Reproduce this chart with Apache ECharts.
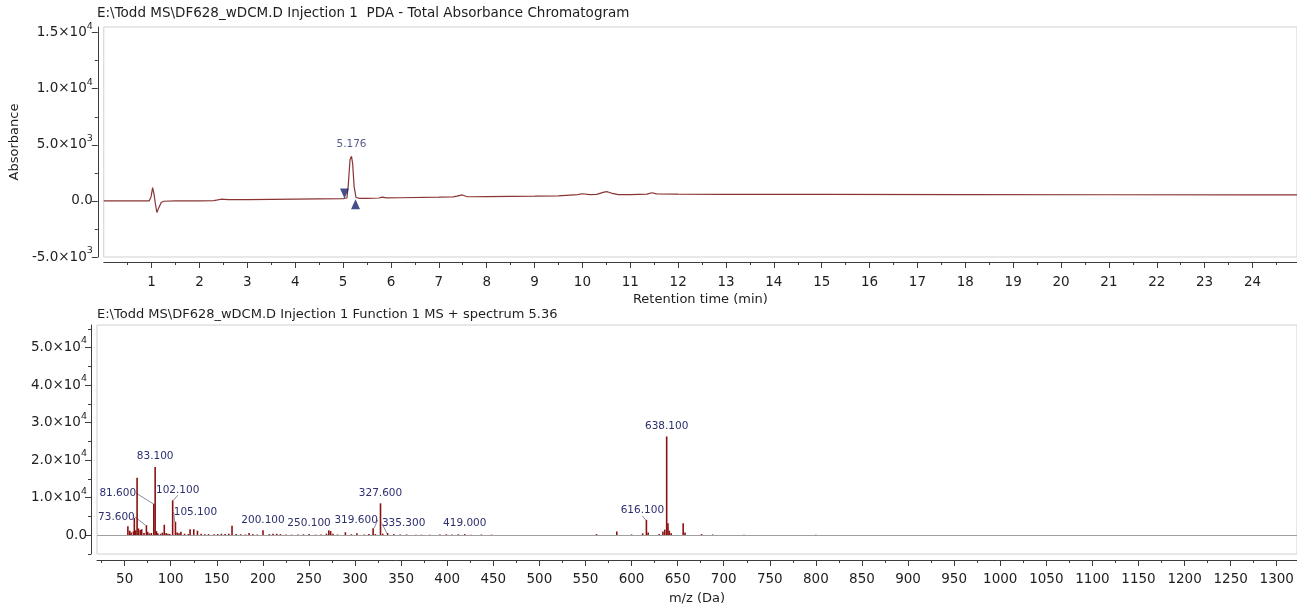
<!DOCTYPE html>
<html>
<head>
<meta charset="utf-8">
<script src="https://cdn.jsdelivr.net/npm/echarts@6/dist/echarts.min.js"></script>
<style>
  html, body { margin: 0; padding: 0; background: #ffffff; }
  #chart { width: 1297px; height: 608px; }
</style>
</head>
<body>
<div id="chart"></div>
<script>
// ---- PDA total absorbance trace (retention time in min, absorbance) ----
const traceTime = [0, 0.5, 0.95, 0.99, 1.02, 1.05, 1.08, 1.11, 1.15, 1.2,
  1.25, 1.5, 2.0, 2.3, 2.38, 2.45, 2.6, 3.0, 3.5, 4.0,
  4.5, 5.0, 5.08, 5.11, 5.145, 5.176, 5.2, 5.23, 5.27, 5.35,
  5.5, 5.75, 5.82, 5.9, 6.2, 7.0, 7.3, 7.38, 7.49, 7.58,
  7.7, 8.0, 8.5, 9.0, 9.5, 9.9, 10.0, 10.15, 10.3, 10.45,
  10.52, 10.6, 10.75, 11.0, 11.35, 11.45, 11.55, 12.0, 13.0, 15.0,
  18.0, 21.0, 24.0, 24.93];
const traceAbs = [0, 0, 10, 400, 1180, 600, -300, -1030, -600, -150,
  -30, 0, 10, 30, 90, 150, 110, 120, 140, 160,
  180, 200, 260, 1500, 3700, 3980, 3300, 1300, 300, 230,
  230, 260, 340, 270, 280, 330, 360, 420, 530, 390,
  370, 380, 400, 420, 450, 560, 640, 560, 580, 780,
  820, 700, 560, 560, 600, 730, 620, 600, 590, 580,
  560, 550, 540, 540];

// integrated peak: apex, start and end markers
const peakApexTime = [5.176];
const peakApexAbs = [3980];
const peakStartTime = [5.03];
const peakStartAbs = [220];
const peakEndTime = [5.26];
const peakEndAbs = [240];

// ---- MS spectrum at 5.36 min (m/z, intensity) ----
const specMz = [53.5, 55.5, 57.0, 59.5, 60.5, 62.0, 63.5, 65.0, 67.0, 68.5,
  71.0, 73.6, 75.0, 77.0, 79.0, 81.6, 83.1, 84.5, 86.0, 89.0,
  91.0, 93.0, 95.0, 97.0, 99.0, 102.1, 105.1, 107.0, 109.0, 111.0,
  115.0, 119.0, 121.0, 125.0, 129.0, 133.0, 137.0, 141.0, 147.0, 151.0,
  155.0, 159.0, 163.0, 166.5, 171.0, 176.0, 181.0, 185.0, 189.0, 194.0,
  200.1, 207.0, 211.0, 215.0, 219.0, 225.0, 231.0, 238.0, 244.0, 250.1,
  257.0, 263.0, 269.0, 271.5, 273.5, 276.0, 281.0, 289.5, 296.0, 302.0,
  310.0, 315.0, 319.6, 322.0, 327.6, 330.0, 335.3, 342.0, 349.0, 356.0,
  366.0, 372.0, 381.0, 392.0, 399.0, 405.0, 412.0, 419.0, 426.0, 437.0,
  448.0, 562.0, 584.0, 600.0, 612.0, 616.1, 618.0, 630.0, 634.0, 636.0,
  638.1, 639.5, 641.0, 643.0, 656.0, 658.0, 676.0, 688.0, 722.0, 800.0];
const specIntensity = [2400, 1200, 700, 1000, 4600, 1300, 15300, 1800, 1400, 1600,
  600, 2650, 900, 500, 600, 8400, 18200, 1100, 500, 400,
  700, 2800, 600, 400, 300, 9300, 3600, 700, 500, 900,
  400, 300, 1600, 1600, 1200, 400, 250, 300, 250, 300,
  400, 300, 400, 2500, 300, 250, 200, 600, 300, 200,
  1300, 300, 400, 400, 300, 200, 150, 200, 250, 300,
  150, 200, 400, 1300, 1100, 400, 200, 800, 250, 500,
  200, 300, 1850, 300, 8500, 400, 600, 300, 200, 200,
  150, 150, 150, 200, 250, 200, 250, 300, 150, 200,
  150, 300, 1000, 200, 500, 4100, 700, 300, 1000, 1500,
  26300, 3200, 1200, 500, 3200, 700, 300, 200, 150, 150];
// peaks annotated with their m/z
const labelledMz = [73.6, 81.6, 83.1, 102.1, 105.1, 200.1, 250.1, 319.6, 327.6, 335.3, 419.0, 616.1, 638.1];

// ---- tick values ----
const rtTicks = [1, 2, 3, 4, 5, 6, 7, 8, 9, 10, 11, 12, 13, 14, 15, 16, 17, 18, 19, 20, 21, 22, 23, 24];
const absTicks = [-5000, 0, 5000, 10000, 15000];
const mzTicks = [50, 100, 150, 200, 250, 300, 350, 400, 450, 500, 550, 600, 650, 700, 750,
  800, 850, 900, 950, 1000, 1050, 1100, 1150, 1200, 1250, 1300];
const intTicks = [0, 10000, 20000, 30000, 40000, 50000];

// minor ticks sit halfway between the labelled ones
const rtMinor = [0.5].concat(rtTicks.map(v => v + 0.5));
const absMinor = [-2500, 2500, 7500, 12500];
const mzMinor = [25].concat(mzTicks.map(v => v + 25));
const intMinor = [-5000].concat(intTicks.map(v => v + 5000));

// ---- styling / layout ----
const FONT = "'DejaVu Sans', Verdana, sans-serif";
const TEXT = '#1e1e1e';
const AXIS = '#3c3c3c';
const TRACE = '#8a3434';
const STICK = '#8b1111';
const ANNOT = '#2c2f6e';
const MARK = '#16226c';

// pixel nudges for crowded peak annotations
const labelNudge = {
  '73.6': [-30, 2], '81.6': [-36, 0], '102.1': [5, 0], '105.1': [20, 1],
  '319.6': [-17, 2], '335.3': [16, 1], '616.1': [-4, 1]
};

function sciLabel(v) {
  if (v === 0) return '{m|0.0}';
  const e = Math.floor(Math.log10(Math.abs(v)) + 1e-9);
  const m = v / Math.pow(10, e);
  return '{m|' + m.toFixed(1) + '×10}{s|' + e + '}';
}
const sciRich = {
  m: { fontFamily: FONT, fontSize: 13.5, color: TEXT },
  s: { fontFamily: FONT, fontSize: 9.5, color: TEXT, padding: [0, 0, 13, 0] }
};
const plainLabel = v => String(v);

function valueAxis(extra) {
  return Object.assign({
    type: 'value',
    splitLine: { show: false },
    axisLine: { show: true, onZero: false, lineStyle: { color: AXIS, width: 1 } },
    axisTick: { show: true, lineStyle: { color: AXIS, width: 1 } },
    axisLabel: { show: true }
  }, extra);
}
// tick-only companion axis carrying the short intermediate ticks
function minorAxis(extra, values) {
  return Object.assign({
    type: 'value',
    splitLine: { show: false },
    axisLine: { show: false, onZero: false },
    axisLabel: { show: false },
    axisTick: { show: true, length: 3, customValues: values, lineStyle: { color: AXIS, width: 1 } }
  }, extra);
}

const rtMax = 24.93, mzMin = 20, mzMax = 1322;
const absMin = -5000, absMax = 15500, intMin = -5000, intMax = 56000;

const spectrumData = specMz.map((mz, i) => {
  const item = { value: [mz, specIntensity[i]] };
  if (labelledMz.indexOf(mz) >= 0) {
    item.label = { show: true };
    if (labelNudge[String(mz)]) item.labelLine = { show: true };
  }
  return item;
});

const chart = echarts.init(document.getElementById('chart'), null, { renderer: 'canvas' });

chart.setOption({
  animation: false,
  backgroundColor: '#ffffff',
  title: [
    { text: 'E:\\Todd MS\\DF628_wDCM.D Injection 1  PDA - Total Absorbance Chromatogram',
      left: 97, top: 6, padding: 0,
      textStyle: { fontFamily: FONT, fontSize: 13.5, fontWeight: 'normal', color: TEXT } },
    { text: 'E:\\Todd MS\\DF628_wDCM.D Injection 1 Function 1 MS + spectrum 5.36',
      left: 97, top: 308, padding: 0,
      textStyle: { fontFamily: FONT, fontSize: 13, fontWeight: 'normal', color: TEXT } }
  ],
  grid: [
    { left: 103, top: 27, width: 1194, height: 230, show: true, borderColor: '#d0d0d0', borderWidth: 1, backgroundColor: 'transparent' },
    { left: 97, top: 325, width: 1200, height: 229, show: true, borderColor: '#d0d0d0', borderWidth: 1, backgroundColor: 'transparent' }
  ],
  xAxis: [
    valueAxis({
      gridIndex: 0, position: 'bottom', min: 0, max: rtMax, offset: 5,
      name: 'Retention time (min)', nameLocation: 'middle', nameGap: 31,
      nameTextStyle: { fontFamily: FONT, fontSize: 13, color: TEXT },
      axisTick: { show: true, length: 6, customValues: rtTicks, lineStyle: { color: AXIS } },
      axisLabel: { customValues: rtTicks, formatter: plainLabel, fontFamily: FONT, fontSize: 13.5, color: TEXT, margin: 13 }
    }),
    minorAxis({ gridIndex: 0, position: 'bottom', min: 0, max: rtMax, offset: 5 }, rtMinor),
    valueAxis({
      gridIndex: 1, position: 'bottom', min: mzMin, max: mzMax, offset: 6,
      name: 'm/z (Da)', nameLocation: 'middle', nameGap: 32,
      nameTextStyle: { fontFamily: FONT, fontSize: 13, color: TEXT },
      axisTick: { show: true, length: 6, customValues: mzTicks, lineStyle: { color: AXIS } },
      axisLabel: { customValues: mzTicks, formatter: plainLabel, fontFamily: FONT, fontSize: 13.5, color: TEXT, margin: 12 }
    }),
    minorAxis({ gridIndex: 1, position: 'bottom', min: mzMin, max: mzMax, offset: 6 }, mzMinor)
  ],
  yAxis: [
    valueAxis({
      gridIndex: 0, position: 'left', min: absMin, max: absMax, offset: 6,
      name: 'Absorbance', nameLocation: 'middle', nameGap: 67, nameRotate: 90,
      nameTextStyle: { fontFamily: FONT, fontSize: 13, color: TEXT },
      axisTick: { show: true, length: 6, customValues: absTicks, lineStyle: { color: AXIS } },
      axisLabel: { customValues: absTicks, margin: 5, formatter: sciLabel, rich: sciRich }
    }),
    minorAxis({ gridIndex: 0, position: 'left', min: absMin, max: absMax, offset: 6 }, absMinor),
    valueAxis({
      gridIndex: 1, position: 'left', min: intMin, max: intMax, offset: 6,
      axisTick: { show: true, length: 6, customValues: intTicks, lineStyle: { color: AXIS } },
      axisLabel: { customValues: intTicks, margin: 4, formatter: sciLabel, rich: sciRich }
    }),
    minorAxis({ gridIndex: 1, position: 'left', min: intMin, max: intMax, offset: 6 }, intMinor)
  ],
  series: [
    {
      name: 'PDA TAC', type: 'line', xAxisIndex: 0, yAxisIndex: 0,
      data: traceTime.map((t, i) => [t, traceAbs[i]]),
      showSymbol: false, symbol: 'none', smooth: false, silent: true,
      lineStyle: { color: TRACE, width: 1.2 }, z: 3
    },
    {
      name: 'apex', type: 'scatter', xAxisIndex: 0, yAxisIndex: 0,
      data: peakApexTime.map((t, i) => [t, peakApexAbs[i]]),
      symbolSize: 1, itemStyle: { color: 'transparent' }, silent: true,
      label: { show: true, position: 'top', distance: 6, color: ANNOT, fontFamily: FONT, fontSize: 10.5,
        formatter: p => p.value[0].toFixed(3) }
    },
    {
      name: 'peak start', type: 'scatter', xAxisIndex: 0, yAxisIndex: 0,
      data: peakStartTime.map((t, i) => [t, peakStartAbs[i]]),
      symbol: 'triangle', symbolRotate: 180, symbolSize: [9, 10], symbolOffset: [0, -5],
      itemStyle: { color: MARK }, silent: true, z: 4
    },
    {
      name: 'peak end', type: 'scatter', xAxisIndex: 0, yAxisIndex: 0,
      data: peakEndTime.map((t, i) => [t, peakEndAbs[i]]),
      symbol: 'triangle', symbolSize: [9, 10], symbolOffset: [0, 6],
      itemStyle: { color: MARK }, silent: true, z: 4
    },
    {
      name: 'MS spectrum', type: 'bar', xAxisIndex: 2, yAxisIndex: 2,
      data: spectrumData, barWidth: 1.6, silent: true,
      itemStyle: { color: STICK },
      label: { show: false, position: 'top', distance: 5, color: ANNOT, fontFamily: FONT, fontSize: 10.5,
        formatter: p => p.value[0].toFixed(3) },
      labelLine: { show: false, lineStyle: { color: '#6b6b8e', width: 0.8 } },
      labelLayout: function (params) {
        const mz = specMz[params.dataIndex];
        const nudge = labelNudge[String(mz)];
        return nudge ? { dx: nudge[0], dy: nudge[1] } : {};
      },
      markLine: {
        silent: true, symbol: 'none', label: { show: false },
        lineStyle: { color: '#a0a0a0', width: 1, type: 'solid' },
        data: [{ yAxis: 0 }]
      },
      z: 3
    }
  ]
});
</script>
</body>
</html>
